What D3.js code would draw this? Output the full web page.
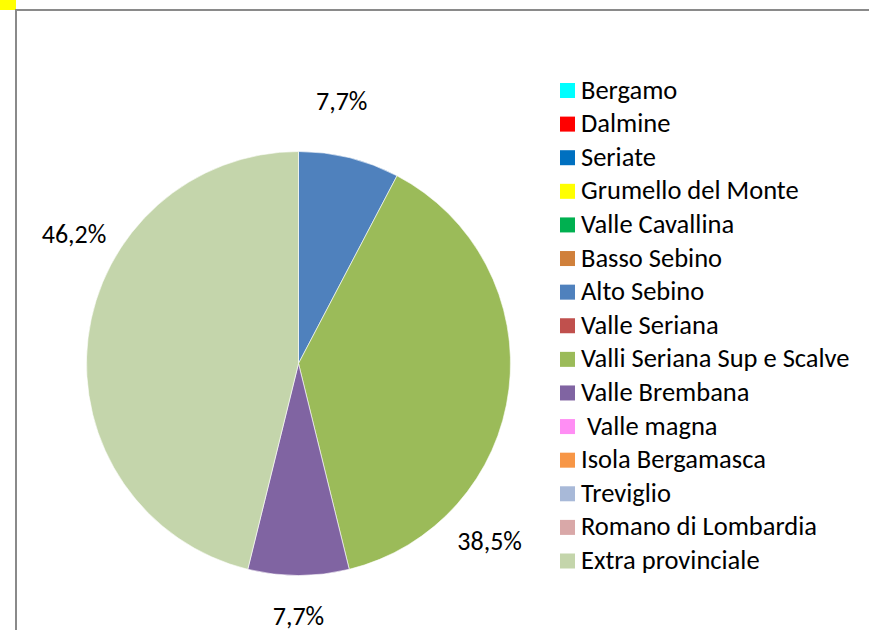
<!DOCTYPE html>
<html>
<head>
<meta charset="utf-8">
<script src="https://cdn.jsdelivr.net/npm/d3@7"></script>
<style>
  html, body { margin: 0; padding: 0; background: #fff; }
  svg text { font-family: Carlito, Calibri, Lato, sans-serif; fill: #000; }
</style>
</head>
<body>
<div id="chart"></div>
<script>
// categories in legend order
const areas = ["Bergamo", "Dalmine", "Seriate", "Grumello del Monte", "Valle Cavallina",
  "Basso Sebino", "Alto Sebino", "Valle Seriana", "Valli Seriana Sup e Scalve",
  "Valle Brembana", " Valle magna", "Isola Bergamasca", "Treviglio",
  "Romano di Lombardia", "Extra provinciale"];

// counts per area (only four non-zero)
const counts = [0, 0, 0, 0, 0, 0, 1, 0, 5, 1, 0, 0, 0, 0, 6];

const areaColours = ["#00FFFF", "#FF0000", "#0070C0", "#FFFF00", "#00B050",
  "#D0803B", "#4F81BD", "#C0504D", "#9BBB59", "#8064A2",
  "#FF8EF4", "#F79646", "#A8B9D8", "#D9A8A8", "#C4D5AB"];

// Excel moved some labels around the pie; nudge [degrees, extra radius]
const labelShift = {
  "Alto Sebino": [-4.5, 8],
  "Valli Seriana Sup e Scalve": [36, 3],
  "Valle Brembana": [0, -6],
  "Extra provinciale": [23, 1]
};

const W = 869, H = 630;
const cx = 298.5, cy = 363.5, radius = 212;

const svg = d3.select("#chart").append("svg")
  .attr("width", W)
  .attr("height", H);

// frame bits from the spreadsheet screenshot
svg.append("rect").attr("x", 0).attr("y", 0).attr("width", 16).attr("height", 10).attr("fill", "#FFFF00");
svg.append("line").attr("x1", 15).attr("x2", W).attr("y1", 10).attr("y2", 10)
  .attr("stroke", "#8a8a8a").attr("stroke-width", 2);
svg.append("line").attr("x1", 16).attr("x2", 16).attr("y1", 9).attr("y2", H)
  .attr("stroke", "#8a8a8a").attr("stroke-width", 2);

const data = areas.map((a, i) => ({name: a, value: counts[i], colour: areaColours[i]}));
const total = d3.sum(counts);

const pie = d3.pie().sort(null).value(d => d.value);
const arcs = pie(data).filter(d => d.value > 0);

const arc = d3.arc().innerRadius(0).outerRadius(radius);

const g = svg.append("g").attr("transform", "translate(" + cx + "," + cy + ")");

g.selectAll("path")
  .data(arcs)
  .enter().append("path")
  .attr("d", arc)
  .attr("fill", d => d.data.colour)
  .attr("stroke", "#fff")
  .attr("stroke-width", 0.6);

const fmt = d => d3.format(".1f")(d.value / total * 100).replace(".", ",") + "%";
const labelR = 258;

g.selectAll("text.lbl")
  .data(arcs)
  .enter().append("text")
  .attr("class", "lbl")
  .attr("text-anchor", "middle")
  .attr("dominant-baseline", "central")
  .attr("font-size", 26)
  .attr("transform", d => {
    const s = labelShift[d.data.name] || [0, 0];
    const a = (d.startAngle + d.endAngle) / 2 + s[0] * Math.PI / 180;
    const r = labelR + s[1];
    return "translate(" + (r * Math.sin(a)) + "," + (-r * Math.cos(a)) + ")";
  })
  .text(fmt);

// legend
const legendY = d3.scalePoint().domain(areas).range([90.5, 561]);

const legend = svg.append("g");
const items = legend.selectAll("g")
  .data(data)
  .enter().append("g")
  .attr("transform", d => "translate(560," + legendY(d.name) + ")");

items.append("rect")
  .attr("x", 0).attr("y", -7.5)
  .attr("width", 15).attr("height", 15)
  .attr("fill", d => d.colour);

items.append("text")
  .attr("x", 21)
  .attr("y", 8)
  .attr("font-size", 26.5)
  .attr("xml:space", "preserve")
  .style("white-space", "pre")
  .text(d => d.name);
</script>
</body>
</html>
